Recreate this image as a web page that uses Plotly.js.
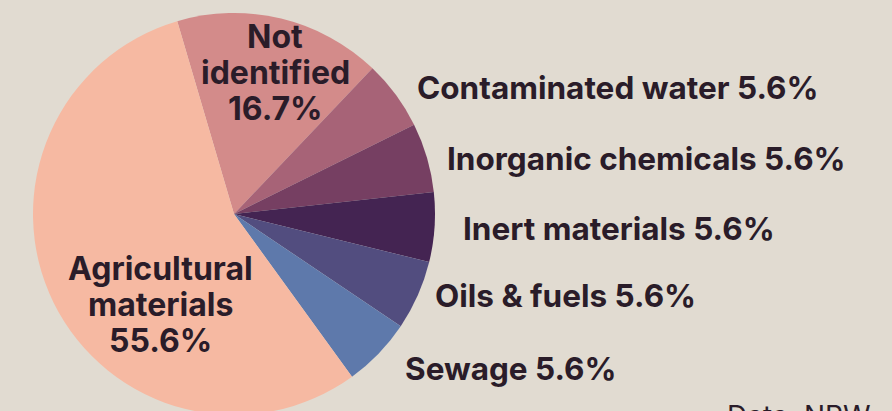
<!DOCTYPE html>
<html>
<head>
<meta charset="utf-8">
<script src="https://cdn.plot.ly/plotly-3.0.1.min.js"></script>
<style>
html, body { margin: 0; padding: 0; background: #e1dbd1; overflow: hidden; }
#chart { width: 892px; height: 415px; }
</style>
</head>
<body>
<div id="chart"></div>
<script>
// Data
var categories = ["Not identified", "Contaminated water", "Inorganic chemicals", "Inert materials", "Oils & fuels", "Sewage", "Agricultural materials"];
var shares = [16.7, 5.6, 5.6, 5.6, 5.6, 5.6, 55.6];
var displayLines = [["Not", "identified"], ["Contaminated water"], ["Inorganic chemicals"], ["Inert materials"], ["Oils & fuels"], ["Sewage"], ["Agricultural", "materials"]];
var sourceNote = "Data: NRW";

var colors = ["#d38b8a", "#a76377", "#763f62", "#442452", "#524d7f", "#5e79ab", "#f6b9a2"];

var W = 892, H = 415;
function px(x) { return x / W; }
function py(y) { return 1 - y / H; }

var trace = {
  type: "pie",
  labels: categories,
  values: shares,
  sort: false,
  direction: "clockwise",
  rotation: -16.4,
  textinfo: "none",
  hoverinfo: "label+percent",
  marker: { colors: colors, line: { width: 0 } },
  domain: { x: [33 / W, 435 / W], y: [0, 1 - 13 / H] },
  showlegend: false
};

var textColor = "#2a1c29";
var fam = "Inter, 'Open Sans', sans-serif";
var outFont = { family: fam, size: 31.5, color: textColor, weight: 700 };
var inFont = { family: fam, size: 32, color: textColor, weight: 700 };

// label placement (pixel positions)
var placement = [
  { x: 275, y: 36, inside: true },
  { x: 415, y: 87 },
  { x: 445, y: 158 },
  { x: 461, y: 228 },
  { x: 433, y: 295 },
  { x: 403, y: 368 },
  { x: 160, y: 268, inside: true }
];
var lineStep = 36;

var annotations = [];
categories.forEach(function (c, i) {
  var p = placement[i];
  var pct = shares[i].toFixed(1) + "%";
  if (p.inside) {
    var lines = displayLines[i].concat([pct]);
    lines.forEach(function (ln, k) {
      annotations.push({
        x: px(p.x), y: py(p.y + k * lineStep), xref: "paper", yref: "paper",
        xanchor: "center", yanchor: "middle", text: ln, showarrow: false, font: inFont
      });
    });
  } else {
    annotations.push({
      x: px(p.x), y: py(p.y), xref: "paper", yref: "paper",
      xanchor: "left", yanchor: "middle", text: displayLines[i][0] + " " + pct,
      showarrow: false, font: outFont
    });
  }
});
annotations.push({
  x: px(725), y: py(397), xref: "paper", yref: "paper",
  xanchor: "left", yanchor: "top", text: sourceNote, showarrow: false,
  font: { family: fam, size: 28, color: textColor, weight: 400 }
});

var layout = {
  width: W, height: H,
  margin: { l: 0, r: 0, t: 0, b: 0 },
  paper_bgcolor: "#e1dbd1",
  plot_bgcolor: "#e1dbd1",
  annotations: annotations
};

Plotly.newPlot("chart", [trace], layout, { displayModeBar: false, staticPlot: true });
</script>
</body>
</html>
